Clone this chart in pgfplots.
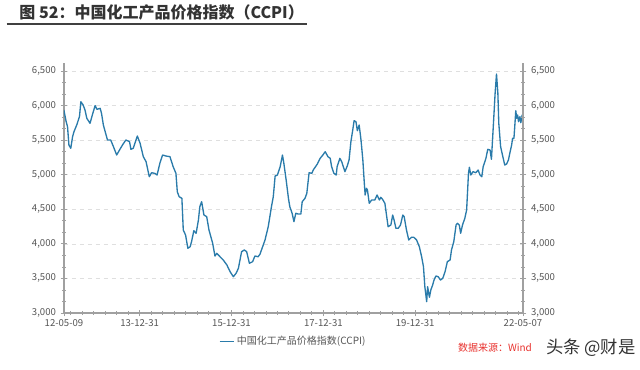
\documentclass[border=0pt]{standalone}
\usepackage{pgfplots}
\pgfplotsset{compat=1.18}
\usepackage{pgfplotstable}
\usepackage{fontspec}
\setmainfont{Noto Sans CJK SC}
\definecolor{lineblue}{HTML}{2A7BAA}
\definecolor{ticktext}{HTML}{555555}
\definecolor{axisgray}{HTML}{A0A0A0}
\definecolor{srcred}{HTML}{E8322E}
\pgfplotstableread{
x y
2012.35 5936
2012.40 5767
2012.43 5695
2012.46 5430
2012.50 5382
2012.54 5550
2012.57 5622
2012.63 5719
2012.69 5840
2012.72 6056
2012.77 6008
2012.81 5936
2012.85 5816
2012.92 5744
2012.97 5864
2013.03 5999
2013.07 5946
2013.14 5960
2013.17 5888
2013.21 5719
2013.25 5622
2013.30 5502
2013.37 5502
2013.43 5405
2013.50 5285
2013.57 5367
2013.64 5444
2013.70 5502
2013.78 5478
2013.81 5367
2013.86 5382
2013.95 5560
2014.01 5454
2014.08 5261
2014.14 5188
2014.21 4971
2014.26 5029
2014.33 5020
2014.38 4996
2014.44 5165
2014.50 5285
2014.57 5271
2014.66 5261
2014.73 5116
2014.79 5020
2014.82 4754
2014.86 4682
2014.92 4658
2014.95 4200
2015.00 4128
2015.05 3936
2015.10 3959
2015.13 4031
2015.18 4190
2015.23 4153
2015.28 4345
2015.31 4537
2015.35 4610
2015.40 4417
2015.46 4393
2015.51 4200
2015.59 4008
2015.64 3824
2015.68 3863
2015.75 3814
2015.82 3767
2015.90 3694
2015.97 3597
2016.04 3525
2016.10 3574
2016.15 3646
2016.22 3887
2016.28 3911
2016.33 3887
2016.39 3719
2016.46 3742
2016.51 3824
2016.58 3814
2016.62 3850
2016.73 4056
2016.80 4248
2016.87 4537
2016.91 4682
2016.95 4981
2017.00 4996
2017.06 5116
2017.11 5285
2017.14 5165
2017.19 4924
2017.24 4658
2017.27 4537
2017.32 4442
2017.36 4321
2017.40 4442
2017.45 4432
2017.51 4432
2017.54 4610
2017.60 4658
2017.64 4731
2017.69 5029
2017.75 5020
2017.78 5068
2017.82 5107
2017.87 5155
2017.93 5237
2017.99 5285
2018.04 5333
2018.10 5261
2018.15 5237
2018.18 5116
2018.23 5020
2018.28 4996
2018.30 5116
2018.36 5237
2018.40 5188
2018.43 5126
2018.47 5044
2018.52 5126
2018.56 5213
2018.60 5478
2018.64 5647
2018.67 5782
2018.71 5767
2018.74 5637
2018.78 5719
2018.82 5502
2018.86 5213
2018.89 4899
2018.91 4707
2018.94 4803
2018.96 4779
2019.00 4586
2019.05 4634
2019.12 4634
2019.17 4707
2019.22 4634
2019.25 4673
2019.29 4644
2019.34 4586
2019.38 4393
2019.41 4248
2019.47 4273
2019.51 4417
2019.54 4345
2019.58 4225
2019.63 4225
2019.68 4273
2019.73 4417
2019.76 4393
2019.81 4200
2019.86 4056
2019.92 4095
2019.97 4095
2020.03 4056
2020.09 3959
2020.14 3814
2020.18 3670
2020.21 3380
2020.25 3163
2020.27 3380
2020.31 3227
2020.34 3333
2020.38 3405
2020.41 3477
2020.45 3535
2020.50 3525
2020.55 3477
2020.60 3502
2020.65 3597
2020.70 3742
2020.76 3767
2020.79 3911
2020.84 4031
2020.89 4273
2020.92 4297
2020.96 4273
2020.99 4153
2021.03 4273
2021.08 4369
2021.12 4490
2021.16 5020
2021.18 5107
2021.21 4996
2021.26 5044
2021.32 5029
2021.37 5068
2021.41 4996
2021.45 4971
2021.48 5116
2021.54 5237
2021.58 5367
2021.63 5357
2021.66 5223
2021.70 5695
2021.74 6178
2021.77 6457
2021.80 6178
2021.82 5744
2021.86 5405
2021.90 5285
2021.95 5140
2021.99 5155
2022.03 5213
2022.06 5310
2022.10 5430
2022.12 5526
2022.15 5526
2022.17 5719
2022.19 5926
2022.21 5816
2022.23 5864
2022.25 5767
2022.28 5840
2022.30 5753
2022.33 5864
2022.35 5816
}\ccpi
\pgfplotsset{
  common/.style={
    scale only axis,
    width=344.25pt, height=187.5pt,
    at={(48pt,42.75pt)}, anchor=south west,
    xmin=2012.353, xmax=2022.347,
    ymin=3000, ymax=6616,
    ytick={3000,3500,...,6500},
    minor y tick num=2,
    tick align=outside,
    major tick length=5pt, minor tick length=3pt,
    tick style={axisgray, line width=0.6pt},
    ticklabel style={font=\fontsize{7.2}{8}\selectfont, text=ticktext},
    /pgf/number format/assume math mode=true,
    /pgf/number format/1000 sep={,},
  },
  nolinearrow/.style={
    every outer x axis line/.append style={-},
    every outer y axis line/.append style={-},
    every inner x axis line/.append style={-},
    every inner y axis line/.append style={-},
    axis line style={axisgray, line width=0.8pt, -},
    x axis line style={-},
    y axis line style={-},
  }
}
\begin{document}
\begin{tikzpicture}
\useasboundingbox (0,0) rectangle (480pt,277.5pt);
\begin{axis}[common,
  axis x line=bottom, axis y line=left,
  nolinearrow,
  xtick={2012.353,2014,2016,2018,2020,2022.347},
  xticklabels={12-05-09,13-12-31,15-12-31,17-12-31,19-12-31,22-05-07},
  minor xtick={2012.5,2012.75,...,2022.25},
  ymajorgrids, grid style={dashed, gray!25, line width=0.5pt},
  xticklabel style={yshift=1pt},
  legend style={at={(0.5,-0.075)}, anchor=north, draw=none, fill=none,
    font=\fontsize{7.5}{9}\selectfont, text=ticktext, inner sep=1pt},
  legend image code/.code={\draw[#1] (0pt,0pt) -- (10.5pt,0pt);},
]
\addplot[lineblue, line width=1.0pt, line join=round] table[x=x,y=y] {\ccpi};
\addlegendentry{中国化工产品价格指数(CCPI)}
\end{axis}
\begin{axis}[common,
  axis x line=none, axis y line=right,
  nolinearrow,
]
\addplot[draw=none] coordinates {(2014,4000)};
\end{axis}
\node[anchor=west, font=\bfseries\fontsize{12}{14}\selectfont, text=black!80] at (11pt,268pt) {图 52：中国化工产品价格指数（CCPI）};
\draw[black!75, line width=1.5pt] (5pt,259.5pt) -- (230pt,259.5pt);
\node[anchor=west, font=\fontsize{7.5}{9}\selectfont, text=srcred] at (340pt,16.5pt) {数据来源：Wind};
\node[anchor=west, font=\fontsize{13}{15}\selectfont, text=black!80] at (406pt,16.5pt) {头条 @财是};
\end{tikzpicture}
\end{document}
